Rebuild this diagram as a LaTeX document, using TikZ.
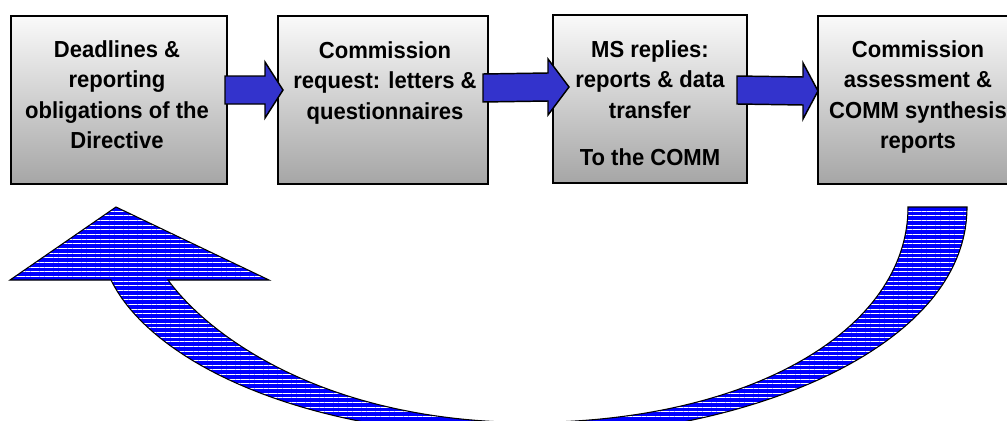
\documentclass[tikz,border=0pt]{standalone}
\usepackage{fontspec}
\setmainfont{Liberation Sans}[FakeStretch=0.95]
\usetikzlibrary{calc,patterns.meta}
\definecolor{arrowblue}{RGB}{51,51,204}
\definecolor{curveblue}{RGB}{0,0,255}
\newcommand\mybarrow[3]{%
  \draw[barrow] ($(#1)+(0,-14)$) -- ($(#2)+(-#3,-14)$) -- ($(#2)+(-#3,-28)$)
    -- (#2) -- ($(#2)+(-#3,28)$) -- ($(#2)+(-#3,14)$) -- ($(#1)+(0,14)$) -- cycle;}
\begin{document}
\begin{tikzpicture}[x=0.75pt,y=-0.75pt,
  stepbox/.style={draw=black, line width=1.1pt, top color=gray!4, bottom color=gray!70,
    anchor=north west, inner sep=0pt, outer sep=0pt, minimum height=126pt},
  boxtext/.style={anchor=base, inner sep=0pt, font=\bfseries\fontsize{17.4}{22.9}\selectfont},
  barrow/.style={draw=black, line width=1.1pt, fill=arrowblue, line join=miter},
  curvearrow/.style={draw=black, line width=0.8pt, preaction={fill=curveblue},
    pattern={Lines[angle=0,distance=3.5pt,line width=0.45pt]}, pattern color=white}]
\useasboundingbox (0,0) rectangle (1007,421);
\clip (0,0) rectangle (1007,421);
% boxes
\node[stepbox, minimum width=162pt] (b1) at (11,16) {};
\node[stepbox, minimum width=157.5pt] (b2) at (278,16) {};
\node[stepbox, minimum width=145.5pt] (b3) at (553,15) {};
\node[stepbox, minimum width=150pt] (b4) at (818,16) {};
% straight arrows
\coordinate (a1s) at ($(b1.east)+(-2,-10)$);
\coordinate (a1t) at ($(b2.west)+(5,-10)$);
\coordinate (a2s) at ($(b2.east)+(-5,-12)$);
\coordinate (a2t) at ($(b3.west)+(16,-12)$);
\coordinate (a3s) at ($(b3.east)+(-10,-9)$);
\coordinate (a3t) at ($(b4.west)+(0,-9)$);
\mybarrow{a1s}{a1t}{18}
\mybarrow{a2s}{a2t}{21}
\mybarrow{a3s}{a3t}{15}
% texts
\node[boxtext] (t1) at (117,57) {\begin{tabular}[t]{@{}c@{}}Deadlines \&\\reporting\\obligations of the\\Directive\end{tabular}};
\node[boxtext] (t2) at (385,58) {\begin{tabular}[t]{@{}c@{}}Commission\\request: letters \&\\questionnaires\end{tabular}};
\node[boxtext] (t3) at (650,57) {\begin{tabular}[t]{@{}c@{}}MS replies:\\reports \& data\\transfer\\[12.4pt]To the COMM\end{tabular}};
\node[boxtext] (t4) at (918,57) {\begin{tabular}[t]{@{}c@{}}Commission\\assessment \&\\COMM synthesis\\reports\end{tabular}};
% curved return arrow
\draw[curvearrow] (967,207) -- (908,207)
  .. controls (908,330) and (750,422) .. (529,422.5)
  .. controls (330,422) and (212,340) .. (168,280)
  -- (269,280) -- (116,207) -- (10,280) -- (111,280)
  .. controls (150,360) and (300,437) .. (530,437)
  .. controls (740,437) and (967,350) .. (967,207) -- cycle;
\end{tikzpicture}
\end{document}
